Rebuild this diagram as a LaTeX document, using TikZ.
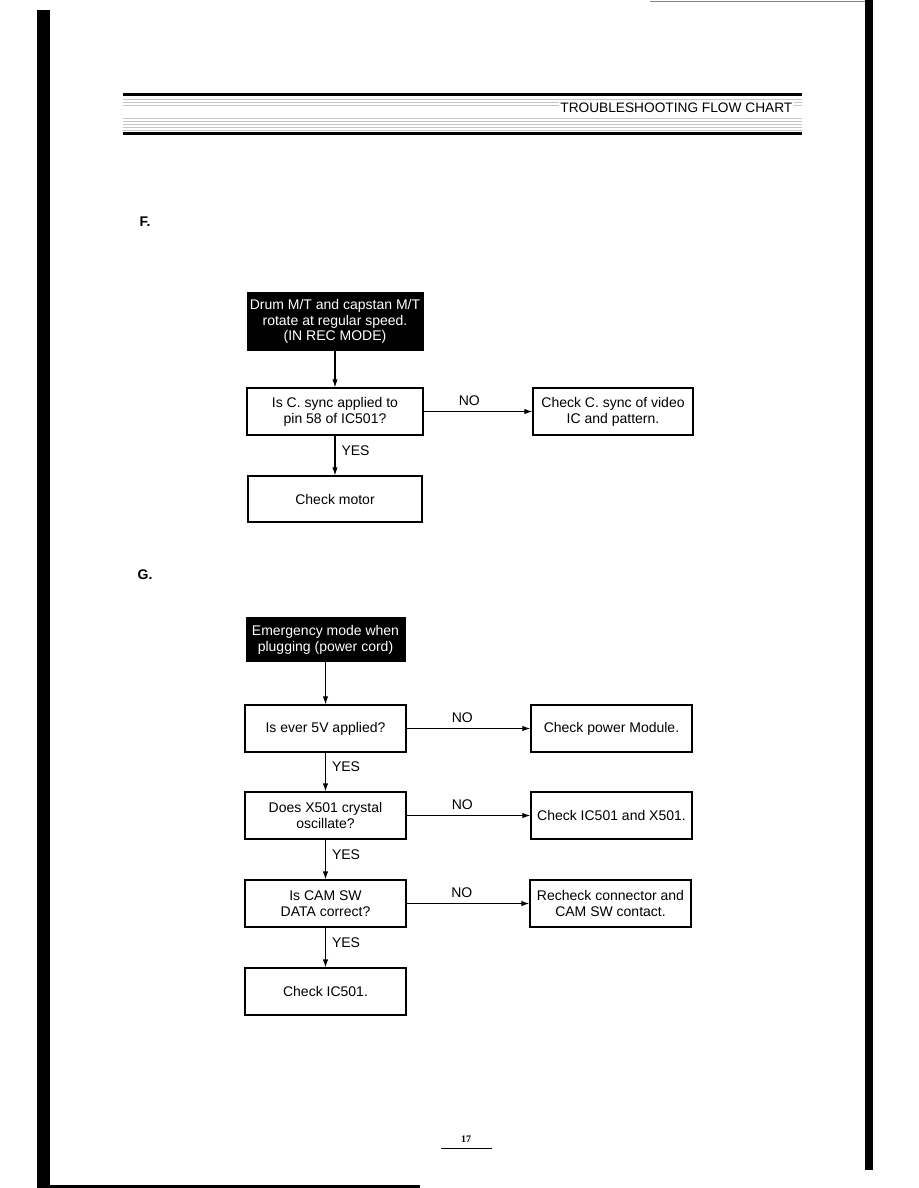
\documentclass[tikz,border=0pt]{standalone}
\usepackage{fontspec}
\setmainfont{Liberation Sans}
\newfontfamily\pagenumfont{Liberation Serif}
\usetikzlibrary{positioning, arrows.meta}

\begin{document}
\begin{tikzpicture}[x=1pt, y=-1pt,
  font=\fontsize{14}{15.8}\selectfont,
  stepbox/.style={draw, line width=1.3pt, minimum width=161pt, minimum height=47pt, inner sep=2pt, align=center},
  startbox/.style={fill=black, text=white, minimum width=160pt, minimum height=45pt, inner sep=2pt, align=center},
  flow/.style={-{Latex[length=8pt,width=5.5pt]}, line width=1.1pt},
  lbl/.style={inner sep=1pt}
]
  \useasboundingbox (0,0) rectangle (918,1188);

  % page frame
  \fill (37,10) rectangle (50,1188);
  \fill (865,0) rectangle (873,1170);
  \fill (37,1185) rectangle (420,1188);
  \draw[gray, line width=0.6pt] (650,1.5) -- (865,1.5);

  % header band
  \fill (123,93) rectangle (802,96);
  \fill (123,132.5) rectangle (802,135.5);
  \foreach \yy in {99,102,105,118,121,124,127,130}
    \draw[gray!45, line width=0.4pt] (123,\yy) -- (802,\yy);
  \node[fill=white, inner sep=1.5pt, anchor=base east, font=\fontsize{13.7}{15}\selectfont] (title) at (794,113) {TROUBLESHOOTING FLOW CHART};

  % section F
  \node[font=\bfseries\fontsize{14}{16}\selectfont] (secF) at (145,222) {F.};

  \node[startbox, minimum width=177pt, minimum height=59pt] (fstart) at (335,321.5) {Drum M/T and capstan M/T\\rotate at regular speed.\\(IN REC MODE)};
  \node[stepbox, minimum width=176pt] (fq) at (335,411.5) {Is C. sync applied to\\pin 58 of IC501?};
  \node[stepbox, minimum width=160pt] (fno) at (613,411.5) {Check C. sync of video\\IC and pattern.};
  \node[stepbox, minimum width=174pt, minimum height=46pt] (fmotor) at (335,499) {Check motor};

  \draw[flow] (fstart) -- (fq);
  \draw[flow] (fq) -- node[above=4pt, lbl, pos=0.42] {NO} (fno);
  \draw[flow] (fq) -- node[right=5pt, lbl, pos=0.37] {YES} (fmotor);

  % section G
  \node[font=\bfseries\fontsize{14}{16}\selectfont] (secG) at (145,575) {G.};

  \node[startbox] (gstart) at (325.5,639.5) {Emergency mode when\\plugging (power cord)};
  \node[stepbox] (gq1) at (325.5,728.5) {Is ever 5V applied?};
  \node[stepbox] (gno1) at (611.5,728.5) {Check power Module.};
  \node[stepbox] (gq2) at (325.5,815.5) {Does X501 crystal\\oscillate?};
  \node[stepbox] (gno2) at (611.5,815.5) {Check IC501 and X501.};
  \node[stepbox] (gq3) at (325.5,903.5) {Is CAM SW\\DATA correct?};
  \node[stepbox] (gno3) at (610.5,903.5) {Recheck connector and\\CAM SW contact.};
  \node[stepbox] (gend) at (325.5,991.5) {Check IC501.};

  \draw[flow] (gstart) -- (gq1);
  \draw[flow] (gq1) -- node[above=4pt, lbl, pos=0.45] {NO} (gno1);
  \draw[flow] (gq1) -- node[right=5pt, lbl, pos=0.37] {YES} (gq2);
  \draw[flow] (gq2) -- node[above=4pt, lbl, pos=0.45] {NO} (gno2);
  \draw[flow] (gq2) -- node[right=5pt, lbl, pos=0.37] {YES} (gq3);
  \draw[flow] (gq3) -- node[above=4pt, lbl, pos=0.45] {NO} (gno3);
  \draw[flow] (gq3) -- node[right=5pt, lbl, pos=0.37] {YES} (gend);

  % page number
  \node[font=\pagenumfont\bfseries\fontsize{10}{11}\selectfont] (pgnum) at (466,1139) {17};
  \draw[line width=0.9pt] (441,1148.5) -- (492,1148.5);
\end{tikzpicture}
\end{document}
